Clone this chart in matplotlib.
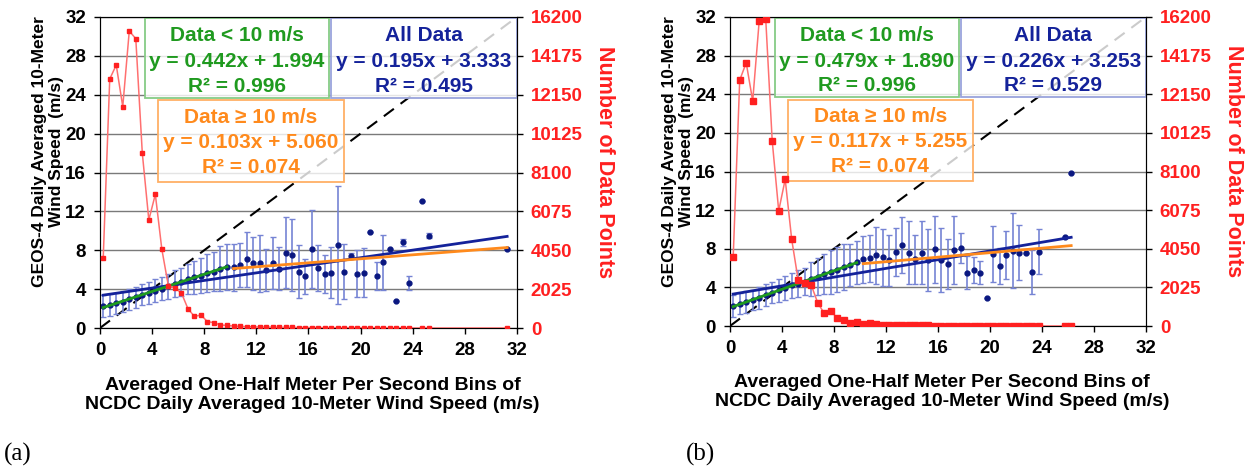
import numpy as np
import matplotlib.pyplot as plt
from matplotlib.patches import Rectangle

plt.rcParams['font.family'] = ['Liberation Sans', 'DejaVu Sans']
plt.rcParams['font.weight'] = 'bold'
plt.rcParams['axes.labelweight'] = 'bold'

# ---- panel (a) : bin centres, mean GEOS-4 speed, std dev, sample count ----
a_bins = [0.25, 0.75, 1.25, 1.75, 2.25, 2.75, 3.25, 3.75, 4.25, 4.75,
          5.25, 5.75, 6.25, 6.75, 7.25, 7.75, 8.25, 8.75, 9.25, 9.75,
          10.25, 10.75, 11.25, 11.75, 12.25, 12.75, 13.25, 13.75, 14.25, 14.75,
          15.25, 15.75, 16.25, 16.75, 17.25, 17.75, 18.25, 18.75, 19.25, 19.75,
          20.25, 20.75, 21.25, 21.75, 22.25, 22.75, 23.25, 23.75, 24.75, 25.25, 31.25]
a_mean = [2.25, 2.35, 2.55, 2.70, 2.95, 3.15, 3.40, 3.60, 3.85, 4.05,
          4.30, 4.55, 4.75, 5.00, 5.20, 5.40, 5.65, 5.80, 6.10, 6.30,
          6.25, 6.45, 7.05, 6.65, 6.65, 6.00, 6.70, 6.10, 7.75, 7.50,
          5.80, 5.30, 8.10, 6.20, 5.60, 5.70, 8.55, 5.80, 7.40, 5.60,
          5.70, 9.90, 5.35, 6.75, 8.10, 2.75, 8.80, 4.60, 13.10, 9.50, 8.10]
a_sd = [1.12, 1.12, 1.07, 1.08, 1.08, 1.12, 1.08, 1.15, 1.17, 1.15,
        1.27, 1.38, 1.42, 1.55, 1.71, 1.76, 1.93, 1.97, 2.30, 2.36,
        2.40, 2.25, 2.80, 2.70, 2.90, 2.15, 2.65, 2.20, 3.65, 3.70,
        2.70, 1.80, 4.00, 2.35, 1.95, 2.60, 6.05, 2.80, 0.35, 2.40,
        2.50, 0.00, 1.40, 2.80, 0.00, 0.00, 0.40, 0.70, 0.00, 0.25, 0.00]
a_count = [3630, 12970, 13700, 11530, 15470, 15070, 9110, 5630, 6960, 4100,
           2200, 2080, 1830, 1010, 600, 680, 330, 280, 150, 140,
           100, 85, 70, 60, 50, 45, 40, 35, 30, 28,
           25, 22, 20, 18, 16, 15, 13, 12, 10, 9,
           8, 7, 6, 5, 5, 4, 3, 3, 2, 2, 1]
a_fits = {'all': (0.195, 3.333, 0.495), 'lo': (0.442, 1.994, 0.996), 'hi': (0.103, 5.060, 0.074)}

# ---- panel (b) ----
b_bins = [0.25, 0.75, 1.25, 1.75, 2.25, 2.75, 3.25, 3.75, 4.25, 4.75,
          5.25, 5.75, 6.25, 6.75, 7.25, 7.75, 8.25, 8.75, 9.25, 9.75,
          10.25, 10.75, 11.25, 11.75, 12.25, 12.75, 13.25, 13.75, 14.25, 14.75,
          15.25, 15.75, 16.25, 16.75, 17.25, 17.75, 18.25, 18.75, 19.25, 19.75,
          20.25, 20.75, 21.25, 21.75, 22.25, 22.75, 23.25, 23.75, 25.75, 26.25]
b_mean = [2.10, 2.30, 2.45, 2.70, 2.95, 3.20, 3.45, 3.70, 3.95, 4.20,
          4.40, 4.60, 4.90, 5.10, 5.40, 5.60, 5.85, 6.10, 6.30, 6.60,
          6.90, 7.00, 7.35, 7.10, 6.80, 7.70, 8.40, 7.60, 6.90, 7.60,
          6.80, 7.95, 6.85, 6.40, 7.85, 8.05, 5.50, 5.80, 5.50, 2.90,
          7.45, 6.20, 7.35, 7.80, 7.60, 7.60, 5.60, 7.70, 9.20, 15.80]
b_sd = [1.12, 1.10, 1.15, 1.07, 1.14, 1.10, 1.10, 1.20, 1.25, 1.30,
        1.40, 1.40, 1.75, 1.90, 2.10, 2.25, 2.30, 2.40, 2.20, 2.20,
        2.40, 2.40, 2.95, 2.95, 2.65, 2.50, 2.90, 3.30, 2.50, 3.30,
        3.20, 3.45, 3.35, 2.60, 3.50, 1.55, 1.70, 1.35, 1.20, 0.00,
        2.90, 1.85, 2.50, 3.90, 2.85, 0.00, 2.30, 2.35, 0.00, 0.00]
b_count = [3630, 12890, 13800, 11800, 16000, 16120, 9710, 6040, 7690, 4540,
           2400, 2270, 2150, 1220, 660, 790, 420, 340, 150, 230,
           90, 140, 100, 60, 50, 45, 40, 35, 32, 30,
           27, 25, 22, 20, 18, 16, 15, 13, 12, 10,
           9, 8, 7, 6, 5, 5, 4, 3, 2, 2]
b_fits = {'all': (0.226, 3.253, 0.529), 'lo': (0.479, 1.890, 0.996), 'hi': (0.117, 5.255, 0.074)}

wind_ticks = [0, 4, 8, 12, 16, 20, 24, 28, 32]
count_ticks = [0, 2025, 4050, 6075, 8100, 10125, 12150, 14175, 16200]

GREEN = '#1f9a1f'
NAVY = '#14229a'
ORANGE = '#ff8a1c'
RED = '#ff2020'


def panel(fig, rect, bins, mean, sd, count, fits, msize, tag, tag_x):
    ax = fig.add_axes(rect)
    bins = np.array(bins)
    ax.set_xlim(0, 32)
    ax.set_ylim(0, 32)
    ax.set_xticks(wind_ticks)
    ax.set_yticks(wind_ticks)
    ax.grid(axis='y', color='#7a7a7a', lw=1.0, zorder=0)
    ax.set_axisbelow(True)
    ax.tick_params(labelsize=13.5, length=4, width=1, pad=6)
    for s in ax.spines.values():
        s.set_color('#303030')

    ax.plot([0, 32], [0, 32], color='black', lw=1.5, dashes=(6, 4), zorder=2)
    ax.errorbar(bins, mean, yerr=sd, fmt='o', color='#0a1780', ms=3.5,
                ecolor='#7684d4', elinewidth=1.2, capsize=2.5, capthick=1, zorder=3)

    m, b, r2_all = fits['all']
    ax.plot(bins, m * bins + b, color=NAVY, lw=2, zorder=4)
    lo = bins[bins < 10]
    m, b, r2_lo = fits['lo']
    ax.plot(lo, m * lo + b, color=GREEN, lw=2, zorder=4)
    hi = bins[bins >= 10]
    m, b, r2_hi = fits['hi']
    ax.plot(hi, m * hi + b, color=ORANGE, lw=2, zorder=4)

    boxes = [
        ('lo', 'Data < 10 m/s', GREEN, '#86cc86', (3.45, 23.7, 14.15, 8.2), [30.1, 27.4, 24.9]),
        ('all', 'All Data', NAVY, '#9aa4dc', (17.75, 23.7, 14.25, 8.2), [30.1, 27.4, 24.9]),
        ('hi', 'Data \u2265 10 m/s', ORANGE, '#ffb066', (4.45, 15.0, 14.25, 8.45), [21.7, 19.1, 16.5]),
    ]
    for key, title, tcol, ecol, (x0, y0, w, h), ys in boxes:
        m, b, r2 = fits[key]
        ax.add_patch(Rectangle((x0, y0), w, h, facecolor='white', alpha=0.8,
                               edgecolor='none', zorder=6))
        ax.add_patch(Rectangle((x0, y0), w, h, facecolor='none',
                               edgecolor=ecol, lw=1.3, zorder=6))
        lines = [title, f'y = {m:.3f}x + {b:.3f}', f'R\u00b2 = {r2:.3f}']
        for txt, yy in zip(lines, ys):
            ax.text(x0 + w / 2, yy, txt, color=tcol, fontsize=15, ha='center',
                    va='center', zorder=7)

    ax.set_xlabel('Averaged One-Half Meter Per Second Bins of\n'
                  'NCDC Daily Averaged 10-Meter Wind Speed (m/s)',
                  fontsize=14, fontweight='bold', va='center', linespacing=1.15)
    ax.xaxis.set_label_coords(0.51, -0.215)
    ax.set_ylabel('GEOS-4 Daily Averaged 10-Meter\nWind Speed  (m/s)',
                  fontsize=12.5, fontweight='bold', va='center', linespacing=1.2)
    ax.yaxis.set_label_coords(-0.125, 0.566)

    ax2 = ax.twinx()
    ax2.set_ylim(0, 16200)
    ax2.set_yticks(count_ticks)
    ax2.tick_params(labelsize=13.5, length=4, width=1, pad=6, labelcolor=RED)
    ax2.plot(bins, count, color='#ff7070', lw=1.1, marker='s', ms=msize,
             mfc=RED, mec=RED, zorder=5)
    ax2.set_ylabel('Number of Data Points', color=RED, fontsize=15.5,
                   fontweight='bold', rotation=270, va='center')
    ax2.yaxis.set_label_coords(1.21, 0.534)

    fig.text(tag_x, 0.045, tag, fontsize=18, fontweight='normal',
             family=['Liberation Serif', 'DejaVu Serif'], va='center')
    return ax


fig = plt.figure(figsize=(12.51, 4.76), dpi=100)
panel(fig, [0.0799, 0.3109, 0.3333, 0.6534], a_bins, a_mean, a_sd, a_count,
      a_fits, 2.5, '(a)', 0.003)
panel(fig, [0.5835, 0.3151, 0.3325, 0.6492], b_bins, b_mean, b_sd, b_count,
      b_fits, 4.2, '(b)', 0.548)
fig.savefig('out.png', dpi=100)
